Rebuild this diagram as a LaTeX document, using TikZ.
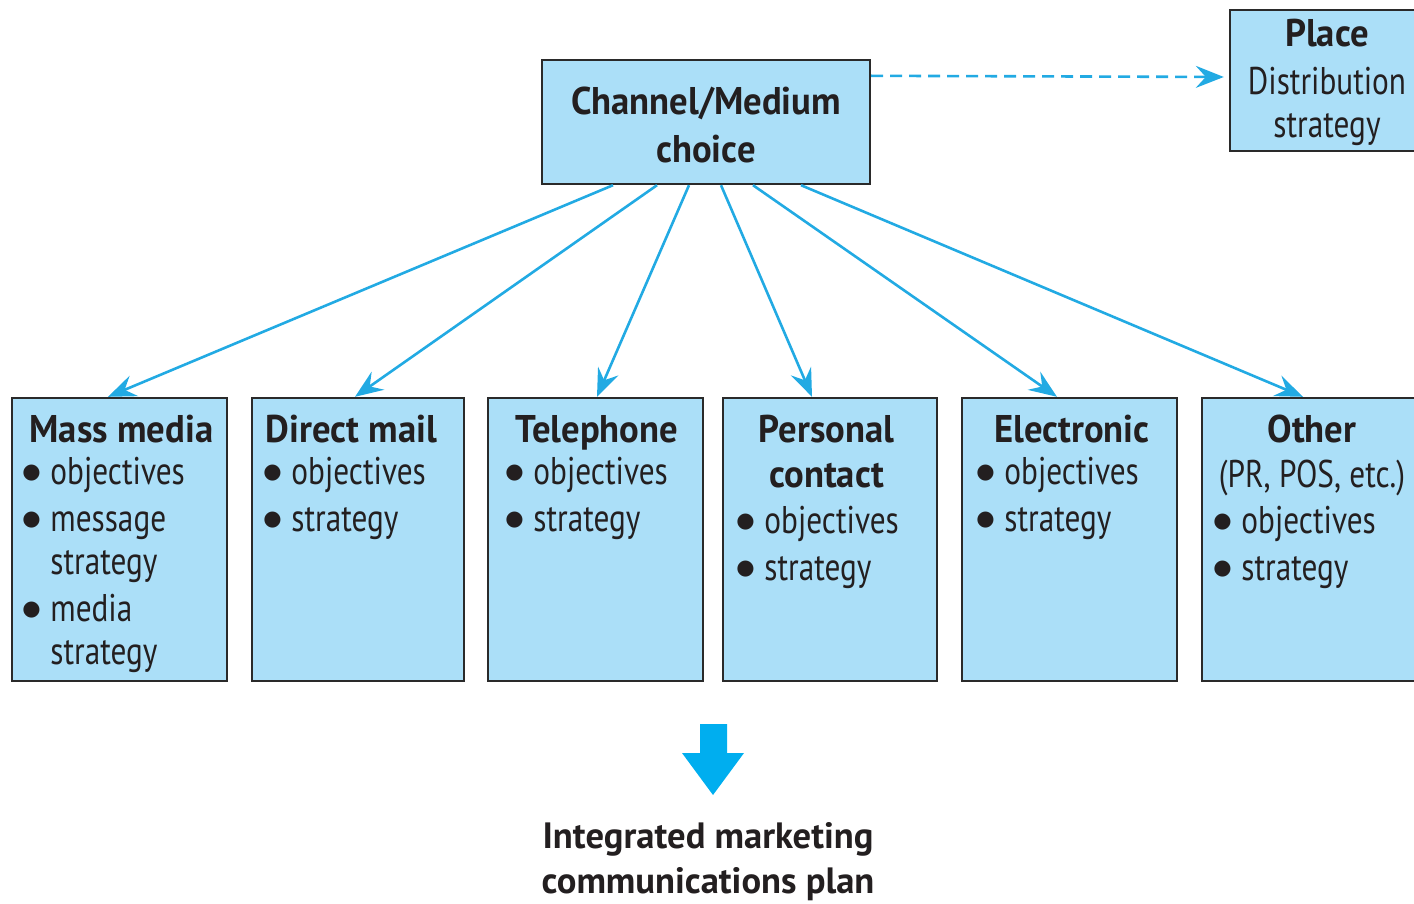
\documentclass[tikz,border=0pt]{standalone}
\usepackage{fontspec}
\setmainfont{PT Sans}[FakeStretch=0.81, BoldFeatures={FakeStretch=0.95}]
\newfontfamily\imcfont{PT Sans}
\newfontfamily\dotfont{DejaVu Sans}
\usetikzlibrary{arrows.meta}
\definecolor{boxfill}{HTML}{ABDFF8}
\definecolor{linkblue}{HTML}{22AAE3}
\definecolor{bigblue}{HTML}{00AEEF}
\definecolor{ink}{HTML}{231F20}
\definecolor{edgegray}{HTML}{2A2A2A}
\newcommand{\bodysize}{\fontsize{19.3}{21.5}\selectfont}
\newcommand{\itm}{\makebox[10pt][l]{\raisebox{2.6pt}{\dotfont\fontsize{10.5}{10.5}\selectfont ●}}}
\newcommand{\blist}[1]{\begin{tabular}[t]{@{}l@{\hspace{4pt}}l@{}}#1\end{tabular}}
\newcommand{\cstack}[1]{\begin{tabular}[t]{@{}c@{}}#1\end{tabular}}
\begin{document}
\begin{tikzpicture}[x=0.5pt,y=-0.5pt,
  box/.style={draw=edgegray, fill=boxfill, line width=1.2pt, inner sep=0pt},
  head/.style={anchor=base, inner sep=0pt, text=ink, font=\bodysize\bfseries},
  plainhead/.style={anchor=base, inner sep=0pt, text=ink, font=\bodysize},
  items/.style={anchor=base west, inner sep=0pt, text=ink, font=\bodysize},
  conn/.style={draw=linkblue, line width=1.3pt, -{Stealth[length=14pt,width=11pt,inset=5pt]}},
  dashconn/.style={conn, dash pattern=on 6pt off 3.5pt}
]
\useasboundingbox (0,0) rectangle (1414,904);

% top boxes
\node[box, minimum width=164pt, minimum height=62pt] (chan) at (706,122) {};
\node[head] (chant) at (706,115) {\cstack{Channel/Medium\\[2.5pt] choice}};
\node[box, minimum width=100pt, minimum height=70.5pt] (place) at (1330,80.5) {};
\node[plainhead] (placet) at (1327,47) {\cstack{\textbf{Place}\\[2.5pt] Distribution\\ strategy}};

% bottom boxes
\node[box, minimum width=107.5pt, minimum height=141.5pt] (mass) at (119.5,539.5) {};
\node[box, minimum width=106pt, minimum height=141.5pt] (direct) at (358,539.5) {};
\node[box, minimum width=107.5pt, minimum height=141.5pt] (tele) at (595.5,539.5) {};
\node[box, minimum width=107pt, minimum height=141.5pt] (pers) at (830,539.5) {};
\node[box, minimum width=107.5pt, minimum height=141.5pt] (elec) at (1069.5,539.5) {};
\node[box, minimum width=114pt, minimum height=141.5pt] (other) at (1316,539.5) {};

% box texts
\node[head] (massh) at (121.5,442) {Mass media};
\node[items] (massl) at (22,484) {\blist{\itm & objectives\\[2pt] \itm & message\\ & strategy\\[2pt] \itm & media\\ & strategy}};

\node[head] (directh) at (351.5,442) {Direct mail};
\node[items] (directl) at (263,484) {\blist{\itm & objectives\\[2pt] \itm & strategy}};

\node[head] (teleh) at (597,442) {Telephone};
\node[items] (telel) at (505,484) {\blist{\itm & objectives\\[2pt] \itm & strategy}};

\node[head] (persh) at (826.5,442) {\cstack{Personal\\[1pt] contact}};
\node[items] (persl) at (736,533) {\blist{\itm & objectives\\[2pt] \itm & strategy}};

\node[head] (elech) at (1072,442) {Electronic};
\node[items] (elecl) at (976,484) {\blist{\itm & objectives\\[2pt] \itm & strategy}};

\node[head] (otherh) at (1312,442) {\cstack{Other\\[1pt] \mdseries (PR, POS, etc.)}};
\node[items] (otherl) at (1213,533) {\blist{\itm & objectives\\[2pt] \itm & strategy}};

% connectors
\draw[conn] ([xshift=-46.5pt]chan.south) -- ([xshift=-5.75pt]mass.north);
\draw[conn] ([xshift=-24.5pt]chan.south) -- ([xshift=-1.5pt]direct.north);
\draw[conn] ([xshift=-8.5pt]chan.south) -- ([xshift=0.75pt]tele.north);
\draw[conn] ([xshift=7.5pt]chan.south) -- ([xshift=-9pt]pers.north);
\draw[conn] ([xshift=23.5pt]chan.south) -- ([xshift=-6.25pt]elec.north);
\draw[conn] ([xshift=47.5pt]chan.south) -- ([xshift=-6.5pt]other.north);
\draw[dashconn, shorten >=2.5pt] ([yshift=-8.5pt]chan.north east) -- ([yshift=1.75pt]place.west);

% big arrow and result
\fill[bigblue] (700,724) -- (727,724) -- (727,753) -- (744,753) -- (713,795) -- (682,753) -- (700,753) -- cycle;
\node[anchor=base, inner sep=0pt, text=ink, font=\imcfont\fontsize{18.3}{22.5}\selectfont\bfseries] (imc) at (708,848) {\cstack{Integrated marketing\\ communications plan}};
\end{tikzpicture}
\end{document}
